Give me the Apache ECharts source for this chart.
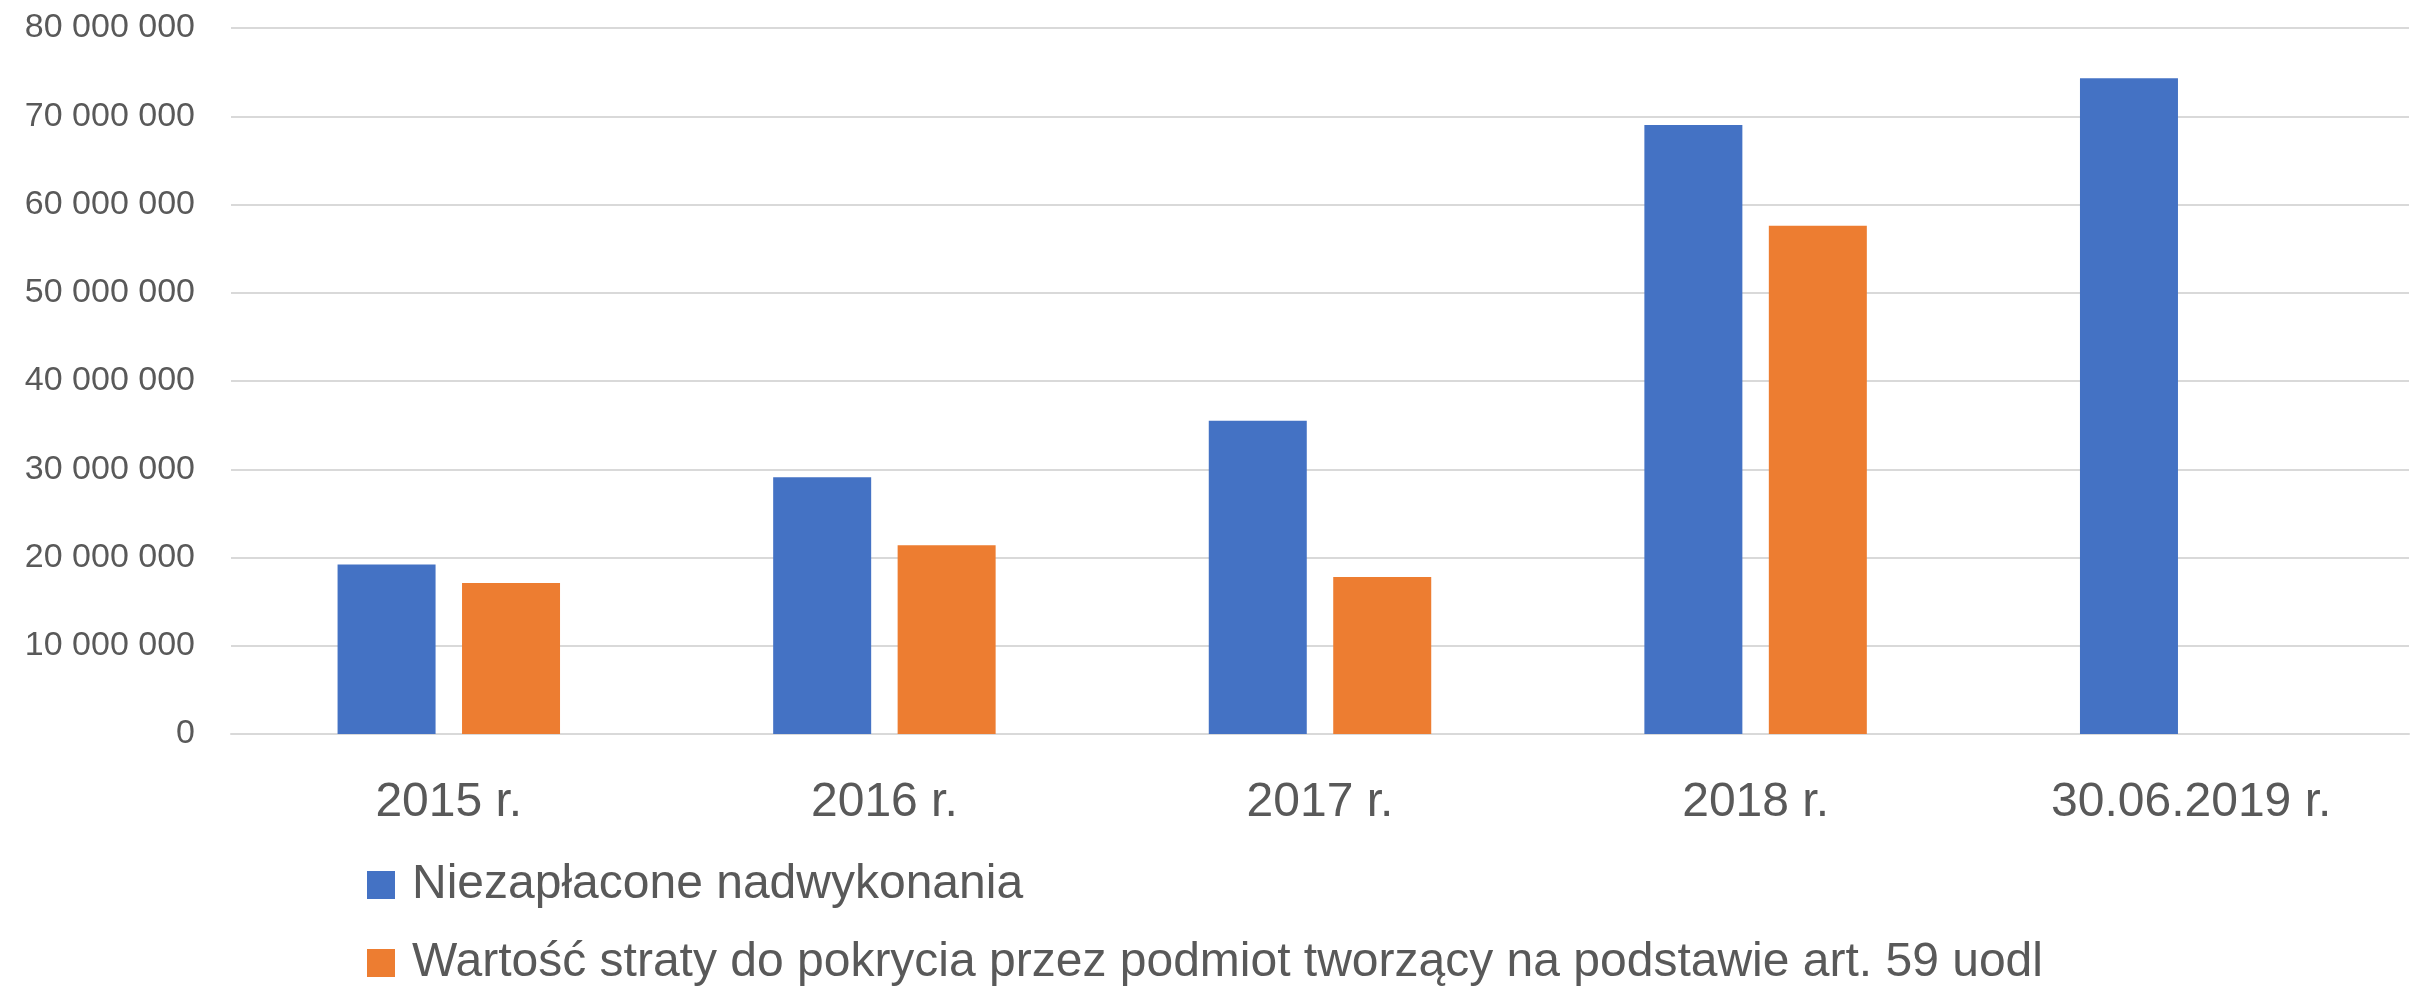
<!DOCTYPE html>
<html lang="pl">
<head>
    <meta charset="UTF-8">
    <title>Nadwykonania</title>
    <style>
        html, body { margin: 0; padding: 0; background: #fff; }
        #chart { width: 2412px; height: 986px; }
    </style>
</head>
<body>
    <div id="chart"></div>
    <script src="https://cdn.jsdelivr.net/npm/echarts@6/dist/echarts.min.js"></script>
    <script>
        // dane
        var categories = ['2015 r.', '2016 r.', '2017 r.', '2018 r.', '30.06.2019 r.'];
        var seriesNames = [
            'Niezapłacone nadwykonania',
            'Wartość straty do pokrycia przez podmiot tworzący na podstawie art. 59 uodl'
        ];
        var niezaplacone = [19200000, 29100000, 35500000, 69000000, 74300000];
        var strata = [17100000, 21400000, 17800000, 57600000, null];

        var font = '"Liberation Sans", Arial, sans-serif';
        var textColor = '#595959';

        function fmt(v) {
            return String(v).replace(/\B(?=(\d{3})+(?!\d))/g, ' ');
        }

        // jedna legenda na wiersz - pionowa sie zawijala
        function legendRow(name, top) {
            return {
                left: 362,
                top: top,
                itemWidth: 28,
                itemHeight: 28,
                icon: 'rect',
                textStyle: { color: textColor, fontSize: 48, lineHeight: 48, fontFamily: font, padding: [0, 0, 0, 12] },
                data: [name]
            };
        }

        var chart = echarts.init(document.getElementById('chart'));
        var option = {
            animation: false,
            color: ['#4472C4', '#ED7D31'],
            grid: { left: 231, right: 3, top: 28, bottom: 252, containLabel: false },
            xAxis: {
                type: 'category',
                data: categories,
                axisLine: { show: true, lineStyle: { color: '#D9D9D9', width: 2 } },
                axisTick: { show: false },
                axisLabel: { color: textColor, fontSize: 48, fontFamily: font, margin: 45 }
            },
            yAxis: {
                type: 'value',
                min: 0,
                max: 80000000,
                interval: 10000000,
                axisLine: { show: false },
                axisTick: { show: false },
                splitLine: { lineStyle: { color: '#D9D9D9', width: 2 } },
                axisLabel: {
                    color: textColor, fontSize: 34, fontFamily: font, margin: 36,
                    formatter: fmt
                }
            },
            legend: [
                legendRow(seriesNames[0], 856),
                legendRow(seriesNames[1], 934)
            ],
            series: [
                {
                    name: seriesNames[0],
                    type: 'bar',
                    data: niezaplacone,
                    barWidth: 98,
                    barGap: '27%'
                },
                {
                    name: seriesNames[1],
                    type: 'bar',
                    data: strata,
                    barWidth: 98,
                    barGap: '27%'
                }
            ]
        };
        chart.setOption(option);
    </script>
</body>
</html>
